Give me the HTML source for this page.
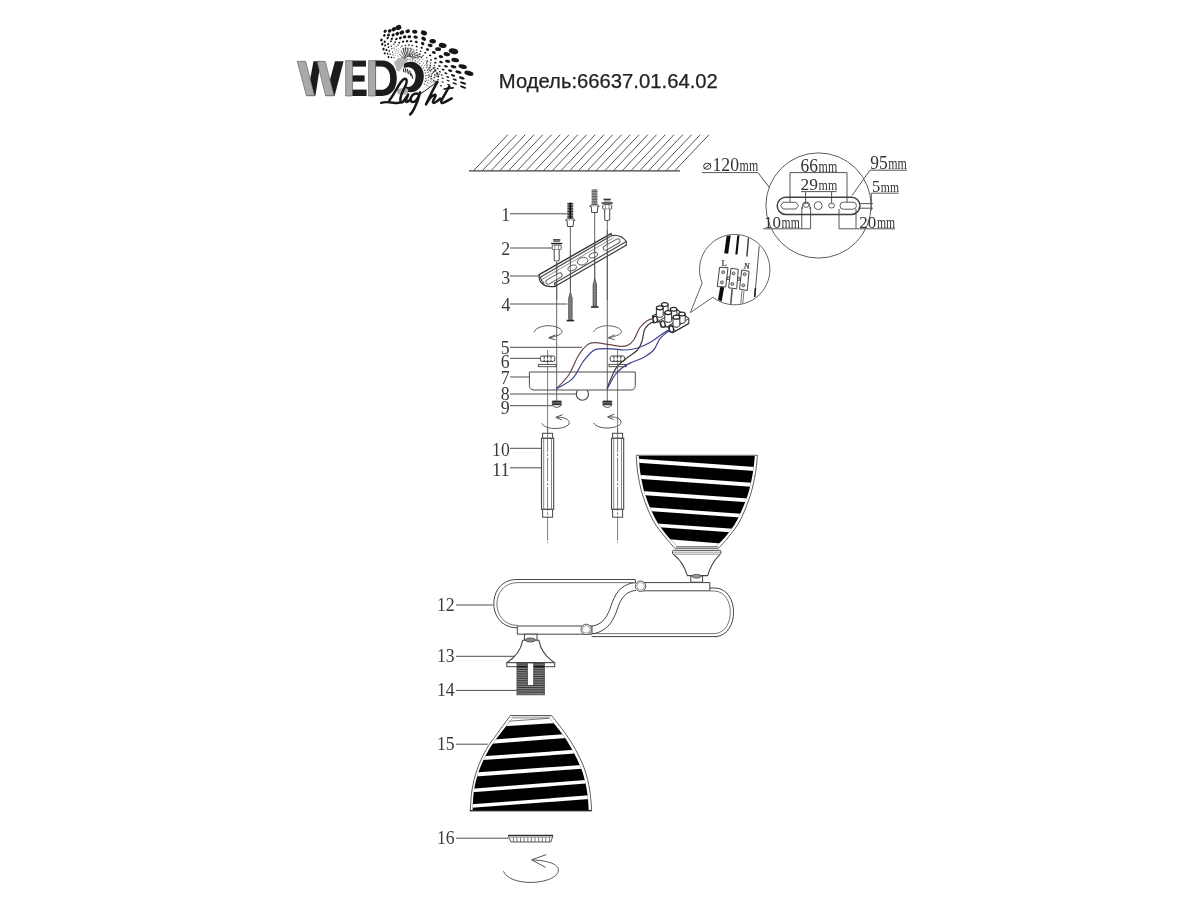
<!DOCTYPE html>
<html><head><meta charset="utf-8"><title>Diagram</title>
<style>
html,body{margin:0;padding:0;background:#fff;}
body{width:1200px;height:900px;overflow:hidden;font-family:"Liberation Sans",sans-serif;}
svg{display:block;}
</style></head><body>
<svg width="1200" height="900" viewBox="0 0 1200 900">
<defs><filter id="soft" x="0" y="0" width="1200" height="900" filterUnits="userSpaceOnUse"><feGaussianBlur stdDeviation="0.45"/></filter></defs>
<rect width="1200" height="900" fill="#fff"/>
<g filter="url(#soft)">
<!-- p01_head.py -->
<text x="498.8" y="87.8" font-family="Liberation Sans, sans-serif" font-size="19.3" fill="#222" stroke="#222" stroke-width="0.25" textLength="219" lengthAdjust="spacingAndGlyphs">Модель:66637.01.64.02</text>
<g stroke="#555" stroke-width="1" fill="none">
<line x1="473.70" y1="170.5" x2="507.80" y2="134.7"/>
<line x1="482.45" y1="170.5" x2="516.55" y2="134.7"/>
<line x1="491.20" y1="170.5" x2="525.30" y2="134.7"/>
<line x1="499.95" y1="170.5" x2="534.05" y2="134.7"/>
<line x1="508.70" y1="170.5" x2="542.80" y2="134.7"/>
<line x1="517.45" y1="170.5" x2="551.55" y2="134.7"/>
<line x1="526.20" y1="170.5" x2="560.30" y2="134.7"/>
<line x1="534.95" y1="170.5" x2="569.05" y2="134.7"/>
<line x1="543.70" y1="170.5" x2="577.80" y2="134.7"/>
<line x1="552.45" y1="170.5" x2="586.55" y2="134.7"/>
<line x1="561.20" y1="170.5" x2="595.30" y2="134.7"/>
<line x1="569.95" y1="170.5" x2="604.05" y2="134.7"/>
<line x1="578.70" y1="170.5" x2="612.80" y2="134.7"/>
<line x1="587.45" y1="170.5" x2="621.55" y2="134.7"/>
<line x1="596.20" y1="170.5" x2="630.30" y2="134.7"/>
<line x1="604.95" y1="170.5" x2="639.05" y2="134.7"/>
<line x1="613.70" y1="170.5" x2="647.80" y2="134.7"/>
<line x1="622.45" y1="170.5" x2="656.55" y2="134.7"/>
<line x1="631.20" y1="170.5" x2="665.30" y2="134.7"/>
<line x1="639.95" y1="170.5" x2="674.05" y2="134.7"/>
<line x1="648.70" y1="170.5" x2="682.80" y2="134.7"/>
<line x1="657.45" y1="170.5" x2="691.55" y2="134.7"/>
<line x1="666.20" y1="170.5" x2="700.30" y2="134.7"/>
<line x1="674.95" y1="170.5" x2="709.05" y2="134.7"/>
</g>
<line x1="469" y1="170.8" x2="680" y2="170.8" stroke="#3c3c3c" stroke-width="1.25"/>
<g font-family="Liberation Serif, serif" font-size="19" fill="#3a3a3a" text-anchor="end">
<text x="510.2" y="221.1" textLength="8.9" lengthAdjust="spacingAndGlyphs">1</text>
<text x="510.2" y="254.9" textLength="8.9" lengthAdjust="spacingAndGlyphs">2</text>
<text x="510.2" y="284.3" textLength="8.9" lengthAdjust="spacingAndGlyphs">3</text>
<text x="510.4" y="310.9" textLength="8.9" lengthAdjust="spacingAndGlyphs">4</text>
<text x="509.6" y="354.4" textLength="8.9" lengthAdjust="spacingAndGlyphs">5</text>
<text x="509.6" y="368.1" textLength="8.9" lengthAdjust="spacingAndGlyphs">6</text>
<text x="509.6" y="384.1" textLength="8.9" lengthAdjust="spacingAndGlyphs">7</text>
<text x="509.6" y="400.2" textLength="8.9" lengthAdjust="spacingAndGlyphs">8</text>
<text x="509.6" y="413.9" textLength="8.9" lengthAdjust="spacingAndGlyphs">9</text>
<text x="509.8" y="456.3" textLength="17.7" lengthAdjust="spacingAndGlyphs">10</text>
<text x="509.8" y="475.5" textLength="17.7" lengthAdjust="spacingAndGlyphs">11</text>
<text x="454.6" y="611.3" textLength="17.7" lengthAdjust="spacingAndGlyphs">12</text>
<text x="454.6" y="662" textLength="17.7" lengthAdjust="spacingAndGlyphs">13</text>
<text x="454.6" y="696.3" textLength="17.7" lengthAdjust="spacingAndGlyphs">14</text>
<text x="454.6" y="750.2" textLength="17.7" lengthAdjust="spacingAndGlyphs">15</text>
<text x="454.6" y="844.2" textLength="17.7" lengthAdjust="spacingAndGlyphs">16</text>
</g>
<g stroke="#4e4e4e" stroke-width="1" fill="none">
<line x1="510" y1="213.8" x2="567.5" y2="213.8"/>
<line x1="510" y1="248" x2="552.5" y2="248"/>
<line x1="510" y1="276" x2="539.5" y2="276"/>
<line x1="510" y1="304" x2="567.5" y2="304"/>
<line x1="510" y1="347.3" x2="582" y2="347.3"/>
<line x1="510" y1="358.3" x2="540" y2="358.3"/>
<line x1="510" y1="377" x2="529.7" y2="377"/>
<line x1="510" y1="394" x2="576" y2="394"/>
<line x1="510" y1="405.7" x2="552.7" y2="405.7"/>
<line x1="510" y1="448.3" x2="541.7" y2="448.3"/>
<line x1="510" y1="467.8" x2="541.7" y2="467.8"/>
<line x1="456" y1="605" x2="493" y2="605"/>
<line x1="456" y1="656.3" x2="514.7" y2="656.3"/>
<line x1="456" y1="690.4" x2="517.3" y2="690.4"/>
<line x1="456" y1="744.2" x2="487.7" y2="744.2"/>
<line x1="456" y1="838.2" x2="508.7" y2="838.2"/>
</g>
<!-- p02_fasteners.py -->
<g stroke="#555" stroke-width="0.9" fill="none">
<line x1="556.7" y1="262" x2="556.7" y2="401"/>
<line x1="570.4" y1="227" x2="570.4" y2="291"/>
<line x1="594.7" y1="213" x2="594.7" y2="278"/>
<line x1="607.3" y1="221" x2="607.3" y2="401"/>
</g>
<g fill="none" stroke="#444" stroke-width="1.1" stroke-linejoin="round" stroke-linecap="round">
<path d="M539.2 274.6 L611 233.6" stroke="#333" stroke-width="1.3"/>
<path d="M540.3 277.2 L611.8 235.6"/>
<path d="M611 233.6 L611.8 235.6 Q621 234.2 626.4 241.6 L626.2 245.2"/>
<path d="M626.4 241.6 L554.6 283.2" />
<path d="M626.2 245.2 L555.2 286.3" stroke="#333" stroke-width="1.2"/>
<path d="M541.5 279.6 L613.5 237.8" stroke="#777" stroke-width="0.8"/>
<path d="M539.2 274.6 Q538.6 280.5 541.5 283 Q546 287.3 553.4 286.6 L555.2 286.3 L554.6 283.2" stroke="#333" stroke-width="1.2"/>
<path d="M540.3 277.2 Q541 281 544 283.2"/>
</g>
<rect x="545.0" y="276.3" width="18.0" height="4.4" rx="2.2" fill="#fff" stroke="#555" stroke-width="0.9" transform="rotate(-29.7 554.0 278.5)"/>
<ellipse cx="572.2" cy="268.0" rx="4.6" ry="2.6" fill="#fff" stroke="#555" stroke-width="0.9" transform="rotate(-20.0 572.2 268.0)"/>
<ellipse cx="582.6" cy="261.2" rx="5.4" ry="3.6" fill="#fff" stroke="#555" stroke-width="0.9" transform="rotate(-20.0 582.6 261.2)"/>
<ellipse cx="593.4" cy="255.2" rx="4.6" ry="2.4" fill="#fff" stroke="#555" stroke-width="0.9" transform="rotate(-20.0 593.4 255.2)"/>
<rect x="602.4" y="242.4" width="18.5" height="4.4" rx="2.2" fill="#fff" stroke="#555" stroke-width="0.9" transform="rotate(-29.7 611.6 244.6)"/>
<g stroke="#555" stroke-width="0.8" fill="none">
<line x1="556.7" y1="262" x2="556.7" y2="300"/>
<line x1="570.4" y1="250" x2="570.4" y2="291"/>
<line x1="594.7" y1="240" x2="594.7" y2="278"/>
<line x1="607.3" y1="230" x2="607.3" y2="300"/>
</g>
<path d="M567.7 204.5 Q570.3 200.5 572.9 204.5 L572.9 218.0 L567.7 218.0 Z" fill="#777" stroke="none" opacity="0.55"/>
<line x1="567.3" y1="203.5" x2="573.3" y2="203.5" stroke="#222" stroke-width="0.9"/>
<line x1="567.3" y1="205.1" x2="573.3" y2="205.1" stroke="#222" stroke-width="0.9"/>
<line x1="567.3" y1="206.7" x2="573.3" y2="206.7" stroke="#222" stroke-width="0.9"/>
<line x1="567.3" y1="208.3" x2="573.3" y2="208.3" stroke="#222" stroke-width="0.9"/>
<line x1="567.3" y1="209.9" x2="573.3" y2="209.9" stroke="#222" stroke-width="0.9"/>
<line x1="567.3" y1="211.5" x2="573.3" y2="211.5" stroke="#222" stroke-width="0.9"/>
<line x1="567.3" y1="213.1" x2="573.3" y2="213.1" stroke="#222" stroke-width="0.9"/>
<line x1="567.3" y1="214.7" x2="573.3" y2="214.7" stroke="#222" stroke-width="0.9"/>
<line x1="567.3" y1="216.3" x2="573.3" y2="216.3" stroke="#222" stroke-width="0.9"/>
<line x1="567.3" y1="217.9" x2="573.3" y2="217.9" stroke="#222" stroke-width="0.9"/>
<line x1="570.3" y1="202.5" x2="570.3" y2="219.0" stroke="#111" stroke-width="1.6"/>
<path d="M565.5 220.3 L567.1 218.7 L573.5 218.7 L575.1 220.3 Z" fill="#fff" stroke="#444" stroke-width="0.9"/>
<path d="M567.0 220.3 L567.5 226.5 L573.1 226.5 L573.6 220.3" fill="#fff" stroke="#444" stroke-width="1"/>
<path d="M591.9 191.0 Q594.5 187.0 597.1 191.0 L597.1 204.0 L591.9 204.0 Z" fill="#777" stroke="none" opacity="0.55"/>
<line x1="591.5" y1="190.0" x2="597.5" y2="190.0" stroke="#555" stroke-width="0.9"/>
<line x1="591.5" y1="191.6" x2="597.5" y2="191.6" stroke="#555" stroke-width="0.9"/>
<line x1="591.5" y1="193.2" x2="597.5" y2="193.2" stroke="#555" stroke-width="0.9"/>
<line x1="591.5" y1="194.8" x2="597.5" y2="194.8" stroke="#555" stroke-width="0.9"/>
<line x1="591.5" y1="196.4" x2="597.5" y2="196.4" stroke="#555" stroke-width="0.9"/>
<line x1="591.5" y1="198.0" x2="597.5" y2="198.0" stroke="#555" stroke-width="0.9"/>
<line x1="591.5" y1="199.6" x2="597.5" y2="199.6" stroke="#555" stroke-width="0.9"/>
<line x1="591.5" y1="201.2" x2="597.5" y2="201.2" stroke="#555" stroke-width="0.9"/>
<line x1="591.5" y1="202.8" x2="597.5" y2="202.8" stroke="#555" stroke-width="0.9"/>
<line x1="591.5" y1="204.4" x2="597.5" y2="204.4" stroke="#555" stroke-width="0.9"/>
<path d="M589.7 206.3 L591.3 204.7 L597.7 204.7 L599.3 206.3 Z" fill="#fff" stroke="#444" stroke-width="0.9"/>
<path d="M591.2 206.3 L591.7 212.5 L597.3 212.5 L597.8 206.3" fill="#fff" stroke="#444" stroke-width="1"/>
<line x1="603.6" y1="199.4" x2="610.8" y2="199.4" stroke="#333" stroke-width="1.5"/>
<line x1="604.0" y1="201.0" x2="610.4" y2="201.0" stroke="#777" stroke-width="1"/>
<line x1="601.6" y1="203.0" x2="612.8" y2="203.0" stroke="#222" stroke-width="1.4"/>
<rect x="602.7" y="204.6" width="9" height="4.6" rx="1" fill="#fff" stroke="#444" stroke-width="0.9"/>
<line x1="605.4" y1="204.6" x2="605.4" y2="209.2" stroke="#666" stroke-width="0.7"/>
<line x1="609.0" y1="204.6" x2="609.0" y2="209.2" stroke="#666" stroke-width="0.7"/>
<path d="M604.7 209.2 L604.7 220.0 Q607.2 221.3 609.7 220.0 L609.7 209.2" fill="#fff" stroke="#444" stroke-width="1"/>
<line x1="553.1" y1="239.9" x2="560.3" y2="239.9" stroke="#333" stroke-width="1.5"/>
<line x1="553.5" y1="241.5" x2="559.9" y2="241.5" stroke="#777" stroke-width="1"/>
<line x1="551.1" y1="243.5" x2="562.3" y2="243.5" stroke="#222" stroke-width="1.4"/>
<rect x="552.2" y="245.1" width="9" height="4.6" rx="1" fill="#fff" stroke="#444" stroke-width="0.9"/>
<line x1="554.9" y1="245.1" x2="554.9" y2="249.7" stroke="#666" stroke-width="0.7"/>
<line x1="558.5" y1="245.1" x2="558.5" y2="249.7" stroke="#666" stroke-width="0.7"/>
<path d="M554.2 249.7 L554.2 260.5 Q556.7 261.8 559.2 260.5 L559.2 249.7" fill="#fff" stroke="#444" stroke-width="1"/>
<path d="M570.4 291.5 L568.7 298.5 L568.7 319.6 L572.1 319.6 L572.1 298.5 Z" fill="#999" stroke="#444" stroke-width="0.8"/>
<line x1="568.7" y1="297.1" x2="572.1" y2="296.5" stroke="#555" stroke-width="0.6"/>
<line x1="568.7" y1="298.6" x2="572.1" y2="298.0" stroke="#555" stroke-width="0.6"/>
<line x1="568.7" y1="300.1" x2="572.1" y2="299.5" stroke="#555" stroke-width="0.6"/>
<line x1="568.7" y1="301.6" x2="572.1" y2="301.0" stroke="#555" stroke-width="0.6"/>
<line x1="568.7" y1="303.1" x2="572.1" y2="302.5" stroke="#555" stroke-width="0.6"/>
<line x1="568.7" y1="304.6" x2="572.1" y2="304.0" stroke="#555" stroke-width="0.6"/>
<line x1="568.7" y1="306.1" x2="572.1" y2="305.5" stroke="#555" stroke-width="0.6"/>
<line x1="568.7" y1="307.6" x2="572.1" y2="307.0" stroke="#555" stroke-width="0.6"/>
<line x1="568.7" y1="309.1" x2="572.1" y2="308.5" stroke="#555" stroke-width="0.6"/>
<line x1="568.7" y1="310.6" x2="572.1" y2="310.0" stroke="#555" stroke-width="0.6"/>
<line x1="568.7" y1="312.1" x2="572.1" y2="311.5" stroke="#555" stroke-width="0.6"/>
<line x1="568.7" y1="313.6" x2="572.1" y2="313.0" stroke="#555" stroke-width="0.6"/>
<line x1="568.7" y1="315.1" x2="572.1" y2="314.5" stroke="#555" stroke-width="0.6"/>
<line x1="568.7" y1="316.6" x2="572.1" y2="316.0" stroke="#555" stroke-width="0.6"/>
<line x1="568.7" y1="318.1" x2="572.1" y2="317.5" stroke="#555" stroke-width="0.6"/>
<line x1="566.7" y1="320.6" x2="574.1" y2="320.6" stroke="#222" stroke-width="1.6"/>
<path d="M594.8 278.0 L593.1 285.0 L593.1 306.0 L596.5 306.0 L596.5 285.0 Z" fill="#999" stroke="#444" stroke-width="0.8"/>
<line x1="593.1" y1="283.6" x2="596.5" y2="283.0" stroke="#555" stroke-width="0.6"/>
<line x1="593.1" y1="285.1" x2="596.5" y2="284.5" stroke="#555" stroke-width="0.6"/>
<line x1="593.1" y1="286.6" x2="596.5" y2="286.0" stroke="#555" stroke-width="0.6"/>
<line x1="593.1" y1="288.1" x2="596.5" y2="287.5" stroke="#555" stroke-width="0.6"/>
<line x1="593.1" y1="289.6" x2="596.5" y2="289.0" stroke="#555" stroke-width="0.6"/>
<line x1="593.1" y1="291.1" x2="596.5" y2="290.5" stroke="#555" stroke-width="0.6"/>
<line x1="593.1" y1="292.6" x2="596.5" y2="292.0" stroke="#555" stroke-width="0.6"/>
<line x1="593.1" y1="294.1" x2="596.5" y2="293.5" stroke="#555" stroke-width="0.6"/>
<line x1="593.1" y1="295.6" x2="596.5" y2="295.0" stroke="#555" stroke-width="0.6"/>
<line x1="593.1" y1="297.1" x2="596.5" y2="296.5" stroke="#555" stroke-width="0.6"/>
<line x1="593.1" y1="298.6" x2="596.5" y2="298.0" stroke="#555" stroke-width="0.6"/>
<line x1="593.1" y1="300.1" x2="596.5" y2="299.5" stroke="#555" stroke-width="0.6"/>
<line x1="593.1" y1="301.6" x2="596.5" y2="301.0" stroke="#555" stroke-width="0.6"/>
<line x1="593.1" y1="303.1" x2="596.5" y2="302.5" stroke="#555" stroke-width="0.6"/>
<line x1="593.1" y1="304.6" x2="596.5" y2="304.0" stroke="#555" stroke-width="0.6"/>
<line x1="591.1" y1="307.0" x2="598.5" y2="307.0" stroke="#222" stroke-width="1.6"/>
<!-- p03_dimcircle.py -->
<circle cx="818.5" cy="205.5" r="52.6" fill="none" stroke="#5c5c5c" stroke-width="1"/>
<g font-family="Liberation Serif, serif" fill="#333">
<g fill="none" stroke="#333" stroke-width="1"><ellipse cx="707.2" cy="166.3" rx="3.6" ry="3.1"/><line x1="703.6" y1="169.2" x2="710.8" y2="163.4"/></g>
<text x="712.5" y="171.0" font-size="18.5" textLength="26.5" lengthAdjust="spacingAndGlyphs">120</text>
<text x="739.6" y="171.0" font-size="16.7" textLength="18.6" lengthAdjust="spacingAndGlyphs">mm</text>
<text x="800.6" y="171.6" font-size="18.5" textLength="17.4" lengthAdjust="spacingAndGlyphs">66</text>
<text x="818.6" y="171.6" font-size="16.7" textLength="18.6" lengthAdjust="spacingAndGlyphs">mm</text>
<text x="800.6" y="190.4" font-size="17.0" textLength="17.4" lengthAdjust="spacingAndGlyphs">29</text>
<text x="818.6" y="190.4" font-size="15.3" textLength="18.6" lengthAdjust="spacingAndGlyphs">mm</text>
<text x="870.3" y="169.0" font-size="18.5" textLength="17.4" lengthAdjust="spacingAndGlyphs">95</text>
<text x="888.3" y="169.0" font-size="16.7" textLength="18.6" lengthAdjust="spacingAndGlyphs">mm</text>
<text x="872.0" y="192.0" font-size="17.0" textLength="8.2" lengthAdjust="spacingAndGlyphs">5</text>
<text x="880.8" y="192.0" font-size="15.3" textLength="18.2" lengthAdjust="spacingAndGlyphs">mm</text>
<text x="764.0" y="228.0" font-size="17.5" textLength="17.0" lengthAdjust="spacingAndGlyphs">10</text>
<text x="781.6" y="228.0" font-size="15.8" textLength="18.2" lengthAdjust="spacingAndGlyphs">mm</text>
<text x="859.3" y="228.0" font-size="17.5" textLength="17.0" lengthAdjust="spacingAndGlyphs">20</text>
<text x="876.9" y="228.0" font-size="15.8" textLength="18.2" lengthAdjust="spacingAndGlyphs">mm</text>
</g>
<g fill="none" stroke="#555" stroke-width="1">
<path d="M702 172.6 L758 172.6 L769 187.2"/>
<path d="M790 204 L790 172.6 L847 172.6 L847 205"/>
<path d="M805.6 204 L805.6 191.6 M831.6 191.6 L831.6 204 M801 191.6 L836.6 191.6"/>
<path d="M907 170.2 L870 170.2 L852 195.5"/>
<path d="M898.6 193.2 L871.3 193.2 L871.3 210.5"/>
<path d="M860 203.6 L873 203.6 M858 208.2 L873 208.2"/>
<path d="M763 228.8 L810.6 228.8 L810.6 207 M801.8 228.8 L801.8 207"/>
<path d="M895 228.8 L839 228.8 L839 209 M856 228.8 L856 209"/>
</g>
<rect x="777.2" y="197.2" width="82.8" height="17.2" rx="8.6" fill="none" stroke="#404040" stroke-width="1.45"/>
<g fill="#fff" stroke="#555" stroke-width="0.95">
<path d="M783 202.3 L796 202.3 L798.4 205.6 L796 209 L783 209 L780.8 205.6 Z" stroke-linejoin="round"/>
<path d="M802.4 209 L802.4 205.4 Q802.4 202 806 202 Q809.8 202 809.8 205.4 L809.8 209" fill="none"/>
<ellipse cx="806.1" cy="205.2" rx="2.6" ry="2.2"/>
<circle cx="818.2" cy="205.6" r="4"/>
<ellipse cx="831.6" cy="205.6" rx="3" ry="2.4"/>
<rect x="840" y="202.2" width="16.4" height="7" rx="3.4"/>
</g>
<!-- p04_callout.py -->
<defs><clipPath id="cclip"><circle cx="734.7" cy="269.6" r="34.6"/></clipPath></defs>
<path d="M702.17 283.04 A35.2 35.2 0 1 1 712.89 297.23 L690.3 312.7 Z" fill="#fff" stroke="#626262" stroke-width="1" stroke-linejoin="round"/>
<g clip-path="url(#cclip)">
<line x1="729" y1="233" x2="726.2" y2="253.5" stroke="#111" stroke-width="4"/>
<line x1="738.6" y1="233" x2="736.4" y2="254.5" stroke="#111" stroke-width="2.2"/>
<line x1="748.6" y1="236" x2="746.9" y2="256.5" stroke="#444" stroke-width="1.5"/>
<line x1="759.2" y1="246" x2="754.8" y2="297" stroke="#444" stroke-width="0.9"/>
<line x1="755.4" y1="288" x2="754.7" y2="297" stroke="#222" stroke-width="1.6"/>
<line x1="722.2" y1="287" x2="719.4" y2="303" stroke="#111" stroke-width="4"/>
<line x1="732.2" y1="289" x2="730.6" y2="305" stroke="#555" stroke-width="1.6"/>
<line x1="742" y1="290.5" x2="740.6" y2="305" stroke="#555" stroke-width="0.8"/>
<line x1="744" y1="290.8" x2="742.6" y2="305" stroke="#555" stroke-width="0.8"/>
</g>
<path d="M719.6 267.3 L728.0 267.6 L725.8 286.9 L717.3 286.6 Z" fill="#fff" stroke="#444" stroke-width="1"/><circle cx="723.2" cy="272.2" r="1.5" fill="#bbb" stroke="#444" stroke-width="0.8"/><circle cx="721.9" cy="282.4" r="1.5" fill="#bbb" stroke="#444" stroke-width="0.8"/>
<path d="M731.0 268.2 L738.3 269.4 L736.7 288.8 L728.6 287.8 Z" fill="#fff" stroke="#444" stroke-width="1"/><circle cx="733.5" cy="273.4" r="1.5" fill="#bbb" stroke="#444" stroke-width="0.8"/><circle cx="732.3" cy="284.0" r="1.5" fill="#bbb" stroke="#444" stroke-width="0.8"/>
<path d="M741.7 270.0 L749.0 271.3 L747.3 290.5 L739.5 289.2 Z" fill="#fff" stroke="#444" stroke-width="1"/><circle cx="744.6" cy="274.2" r="1.5" fill="#bbb" stroke="#444" stroke-width="0.8"/><circle cx="743.3" cy="285.4" r="1.5" fill="#bbb" stroke="#444" stroke-width="0.8"/>
<rect x="727.2" y="277" width="2.2" height="2.4" fill="#fff" stroke="#333" stroke-width="0.8"/>
<rect x="737.8" y="277.8" width="2.2" height="2.4" fill="#fff" stroke="#333" stroke-width="0.8"/>
<text x="721.6" y="266.2" font-family="Liberation Serif, serif" font-size="8.8" fill="#333" stroke="#333" stroke-width="0.2">L</text>
<text x="743.8" y="268.8" font-family="Liberation Serif, serif" font-size="8.8" font-style="italic" fill="#333" stroke="#333" stroke-width="0.2">N</text>
<g stroke-linejoin="round">
<path d="M652.4 316 L659 312.5 L664 309 L672 312.5 L677 309.5 L688.8 318.4 L688.8 323.6 L673.2 332.6 L669.4 331.8 L668.8 326.8 L661.2 327.2 L659.6 321.4 L653.4 323 Z" fill="#fff" stroke="#333" stroke-width="1.1"/>
<path d="M652.8 316.2 L659.4 320.6 L667 316.2" fill="none" stroke="#333" stroke-width="1"/>
<path d="M660 322.4 L667.2 326.8 L675 322" fill="none" stroke="#333" stroke-width="1"/>
<path d="M668.6 326.4 L676 330.8 L688.8 323.4" fill="none" stroke="#333" stroke-width="1"/>
<path d="M669.6 324.6 L676.4 327.2 L688.6 318.6" fill="none" stroke="#333" stroke-width="1"/>
<path d="M661.45 304.60 L661.45 311.60 A3.30 1.90 0 0 0 668.05 311.60 L668.05 304.60 Z" fill="#fff" stroke="#333" stroke-width="1"/>
<ellipse cx="664.75" cy="304.60" rx="3.30" ry="1.90" fill="#fff" stroke="#222" stroke-width="1.2"/>
<path d="M670.30 309.30 L670.30 316.30 A3.30 1.90 0 0 0 676.90 316.30 L676.90 309.30 Z" fill="#fff" stroke="#333" stroke-width="1"/>
<ellipse cx="673.60" cy="309.30" rx="3.30" ry="1.90" fill="#fff" stroke="#222" stroke-width="1.2"/>
<path d="M678.80 314.00 L678.80 321.50 A3.20 1.90 0 0 0 685.20 321.50 L685.20 314.00 Z" fill="#fff" stroke="#333" stroke-width="1"/>
<ellipse cx="682.00" cy="314.00" rx="3.20" ry="1.90" fill="#fff" stroke="#222" stroke-width="1.2"/>
<path d="M656.40 307.80 L656.40 315.40 A3.40 2.00 0 0 0 663.20 315.40 L663.20 307.80 Z" fill="#fff" stroke="#333" stroke-width="1"/>
<ellipse cx="659.80" cy="307.80" rx="3.40" ry="2.00" fill="#fff" stroke="#222" stroke-width="1.2"/>
<path d="M664.80 312.60 L664.80 320.40 A3.40 2.00 0 0 0 671.60 320.40 L671.60 312.60 Z" fill="#fff" stroke="#333" stroke-width="1"/>
<ellipse cx="668.20" cy="312.60" rx="3.40" ry="2.00" fill="#fff" stroke="#222" stroke-width="1.2"/>
<path d="M673.00 317.20 L673.00 325.20 A3.40 2.00 0 0 0 679.80 325.20 L679.80 317.20 Z" fill="#fff" stroke="#333" stroke-width="1"/>
<ellipse cx="676.40" cy="317.20" rx="3.40" ry="2.00" fill="#fff" stroke="#222" stroke-width="1.2"/>
<ellipse cx="655.2" cy="319.4" rx="2.1" ry="3.2" fill="#fff" stroke="#222" stroke-width="1.2" transform="rotate(-14 655.2 319.4)"/>
<ellipse cx="662.9" cy="324.0" rx="2.1" ry="3.2" fill="#fff" stroke="#222" stroke-width="1.2" transform="rotate(-14 662.9 324.0)"/>
<ellipse cx="671.4" cy="329.0" rx="2.1" ry="3.2" fill="#fff" stroke="#222" stroke-width="1.2" transform="rotate(-14 671.4 329.0)"/>
</g>
<!-- p05_plate.py -->
<g stroke="#5a5a5a" stroke-width="0.8" fill="none">
<line x1="547.6" y1="350" x2="547.6" y2="433"/>
<line x1="617.6" y1="350" x2="617.6" y2="433"/>
</g>
<path d="M534.0 332.2 C536.0 327.2 544.0 325.7 548.0 325.7 C554.0 325.7 561.0 327.7 562.0 331.2 C562.5 334.2 557.0 336.2 549.0 337.8" fill="none" stroke="#555" stroke-width="1"/>
<path d="M555.5 334.8 L548.6 337.8 L555.5 339.8" fill="none" stroke="#555" stroke-width="1"/>
<path d="M593.4 332.2 C595.4 327.2 603.4 325.7 607.4 325.7 C613.4 325.7 620.4 327.7 621.4 331.2 C621.9 334.2 616.4 336.2 608.4 337.8" fill="none" stroke="#5a6a60" stroke-width="1"/>
<path d="M614.9 334.8 L608.0 337.8 L614.9 339.8" fill="none" stroke="#5a6a60" stroke-width="1"/>
<rect x="540.4" y="356" width="14.4" height="5.4" rx="1.6" fill="#fff" stroke="#444" stroke-width="1"/><path d="M544.2 356 v5.4 M547.6 356 v5.4 M551.0 356 v5.4" stroke="#333" stroke-width="1" stroke-dasharray="2.6 1"/>
<rect x="610.2" y="356" width="14.4" height="5.4" rx="1.6" fill="#fff" stroke="#444" stroke-width="1"/><path d="M614.0 356 v5.4 M617.4 356 v5.4 M620.8 356 v5.4" stroke="#333" stroke-width="1" stroke-dasharray="2.6 1"/>
<rect x="538.3" y="364.4" width="17.8" height="2.3" fill="#fff" stroke="#444" stroke-width="0.9"/>
<rect x="609" y="364.4" width="17.2" height="2.3" fill="#fff" stroke="#444" stroke-width="0.9"/>
<path d="M529.4 372 L635.3 372 L635.3 385.5 Q635.3 390 630.8 390 L534 390 Q529.4 390 529.4 385.5 Z" fill="none" stroke="#4c4c4c" stroke-width="1"/>
<path d="M577.6 390.4 A6.1 6.1 0 1 0 587.2 390.4" fill="none" stroke="#444" stroke-width="1.1"/>
<path d="M552.4 401 L561.2 401 L561.2 405.4 Q556.8 409.4 552.4 405.4 Z" fill="#fff" stroke="#444" stroke-width="0.9"/>
<rect x="552.6" y="401" width="8.4" height="4.2" fill="#222"/>
<path d="M552.6 402.4 h8.4 M552.6 403.8 h8.4" stroke="#aaa" stroke-width="0.5"/>
<path d="M602.9 401 L611.7 401 L611.7 405.4 Q607.3 409.4 602.9 405.4 Z" fill="#fff" stroke="#444" stroke-width="0.9"/>
<rect x="603.1" y="401" width="8.4" height="4.2" fill="#222"/>
<path d="M603.1 402.4 h8.4 M603.1 403.8 h8.4" stroke="#aaa" stroke-width="0.5"/>
<path d="M556.5 388.6 C558.5 386.3 565.0 380.6 568.7 375.0 C572.4 369.4 575.6 360.1 578.7 355.0 C581.8 349.9 584.8 346.7 587.5 344.6 C590.2 342.5 591.7 342.6 595.0 342.6 C598.3 342.6 603.3 343.8 607.5 344.4 C611.7 345.0 616.7 346.1 620.0 346.3 C623.3 346.5 625.2 346.4 627.5 345.4 C629.8 344.3 631.6 343.0 633.7 340.0 C635.8 337.0 637.7 330.7 640.0 327.5 C642.3 324.3 645.3 322.1 647.5 320.6 C649.7 319.1 652.1 318.9 653.0 318.6" fill="none" stroke="#6a4646" stroke-width="1.2" stroke-linecap="round"/>
<path d="M556.5 388.8 C559.2 387.1 568.2 383.1 572.5 378.7 C576.8 374.3 579.2 367.1 582.5 362.5 C585.8 357.9 589.6 353.5 592.5 351.2 C595.4 348.9 596.7 349.2 600.0 348.8 C603.3 348.4 608.3 348.6 612.5 348.8 C616.7 349.0 620.8 350.1 625.0 350.0 C629.2 349.9 633.3 349.2 637.5 348.0 C641.7 346.8 645.8 344.9 650.0 342.5 C654.2 340.1 659.3 335.9 662.5 333.7 C665.7 331.5 668.2 330.1 669.4 329.4" fill="none" stroke="#404092" stroke-width="1.2" stroke-linecap="round"/>
<path d="M607.4 387.6 C608.2 385.5 610.8 378.6 612.5 375.0 C614.2 371.4 615.0 369.1 617.5 366.2 C620.0 363.3 624.2 360.2 627.5 357.5 C630.8 354.8 635.1 352.7 637.5 350.0 C639.9 347.3 640.9 344.5 642.0 341.2 C643.1 337.9 643.3 332.8 644.4 330.0 C645.5 327.2 647.2 325.8 648.7 324.4 C650.2 323.0 652.9 322.1 653.7 321.6" fill="none" stroke="#443a3a" stroke-width="1.2" stroke-linecap="round"/>
<path d="M607.4 388.4 C608.7 386.2 612.5 378.5 615.0 375.0 C617.5 371.5 619.8 369.6 622.5 367.5 C625.2 365.4 627.7 364.2 631.2 362.5 C634.7 360.8 640.0 359.6 643.7 357.5 C647.5 355.4 651.0 353.1 653.7 350.0 C656.4 346.9 657.5 341.9 660.0 338.7 C662.5 335.5 667.2 332.3 668.7 331.0" fill="none" stroke="#404092" stroke-width="1.2" stroke-linecap="round"/>
<!-- p06_rods.py -->
<path d="M541.6 423.3 C544.2 427.3 550.2 428.5 555.2 428.5 C562.2 428.5 569.2 426.3 569.2 422.7 C569.2 419.3 564.2 416.9 556.2 417.3" fill="none" stroke="#555" stroke-width="1"/>
<path d="M562.6 414.7 L555.8 417.3 L561.8 420.1" fill="none" stroke="#555" stroke-width="1"/>
<path d="M593.4 422.8 C596.0 426.8 602.0 428.0 607.0 428.0 C614.0 428.0 621.0 425.8 621.0 422.2 C621.0 418.8 616.0 416.4 608.0 416.8" fill="none" stroke="#555" stroke-width="1"/>
<path d="M614.4 414.2 L607.6 416.8 L613.6 419.6" fill="none" stroke="#555" stroke-width="1"/>
<rect x="542.6" y="433.3" width="10" height="5" fill="#fff" stroke="#444" stroke-width="1"/>
<rect x="542.6" y="509.2" width="10" height="8" fill="#fff" stroke="#444" stroke-width="1"/>
<rect x="541.5" y="438.3" width="12.2" height="70.9" fill="#fff" stroke="#444" stroke-width="1.1"/>
<path d="M543.7 438.3 V509.2 M551.5 438.3 V509.2" stroke="#777" stroke-width="0.9" fill="none"/>
<line x1="547.6" y1="428" x2="547.6" y2="543" stroke="#5a5a5a" stroke-width="0.8" stroke-dasharray="24 1.5 2.5 1.5"/>
<rect x="612.6" y="433.3" width="10" height="5" fill="#fff" stroke="#444" stroke-width="1"/>
<rect x="612.6" y="509.2" width="10" height="8" fill="#fff" stroke="#444" stroke-width="1"/>
<rect x="611.5" y="438.3" width="12.2" height="70.9" fill="#fff" stroke="#444" stroke-width="1.1"/>
<path d="M613.7 438.3 V509.2 M621.5 438.3 V509.2" stroke="#777" stroke-width="0.9" fill="none"/>
<line x1="617.6" y1="428" x2="617.6" y2="543" stroke="#5a5a5a" stroke-width="0.8" stroke-dasharray="24 1.5 2.5 1.5"/>
<!-- p07_uppershade.py -->
<defs><clipPath id="usclip"><path d="M638.8 456.1 C639.1 459.0 639.3 466.8 640.4 473.3 C641.5 479.8 642.6 487.2 645.2 495.0 C647.8 502.8 652.2 513.0 656.0 520.0 C659.8 527.0 664.4 532.3 668.0 536.7 C671.6 541.1 675.9 544.6 677.5 546.2 L716.0 546.2 C717.6 544.6 722.0 541.1 725.5 536.7 C729.0 532.3 733.5 527.0 737.2 520.0 C740.9 513.0 745.2 502.8 747.8 495.0 C750.4 487.2 751.6 479.8 752.8 473.3 C754.0 466.8 754.5 459.0 754.9 456.1 Z"/></clipPath></defs>
<path d="M636.2 455.3 C636.5 458.3 636.7 466.7 637.8 473.3 C638.9 479.9 640.1 487.2 642.6 495.0 C645.1 502.8 649.1 513.0 652.8 520.0 C656.5 527.0 661.1 532.0 664.8 536.7 C668.5 541.4 673.3 546.4 675.0 548.3 L718.5 548.3 C720.2 546.4 725.1 541.4 728.7 536.7 C732.4 532.0 736.8 527.0 740.4 520.0 C744.0 513.0 747.9 502.8 750.4 495.0 C752.9 487.2 754.2 479.9 755.4 473.3 C756.6 466.7 757.1 458.3 757.5 455.3 Z" fill="#fff" stroke="none"/>
<g clip-path="url(#usclip)">
<rect x="630" y="450" width="135" height="100" fill="#050505"/>
<path d="M636.0 458.6 L760.0 467.3 L760.0 471.3 L636.0 462.6 Z" fill="#fff"/>
<path d="M636.0 474.7 L760.0 483.4 L760.0 487.4 L636.0 478.7 Z" fill="#fff"/>
<path d="M636.0 490.6 L760.0 499.3 L760.0 503.2 L636.0 494.5 Z" fill="#fff"/>
<path d="M636.0 506.4 L760.0 515.1 L760.0 518.9 L636.0 510.2 Z" fill="#fff"/>
<path d="M636.0 522.0 L760.0 530.7 L760.0 534.4 L636.0 525.7 Z" fill="#fff"/>
<path d="M660 538.6 L730 544.2 L730 552 L660 552 Z" fill="#fff"/>
</g>
<path d="M636.2 455.3 C636.5 458.3 636.7 466.7 637.8 473.3 C638.9 479.9 640.1 487.2 642.6 495.0 C645.1 502.8 649.1 513.0 652.8 520.0 C656.5 527.0 661.1 532.0 664.8 536.7 C668.5 541.4 673.3 546.4 675.0 548.3 L718.5 548.3 C720.2 546.4 725.1 541.4 728.7 536.7 C732.4 532.0 736.8 527.0 740.4 520.0 C744.0 513.0 747.9 502.8 750.4 495.0 C752.9 487.2 754.2 479.9 755.4 473.3 C756.6 466.7 757.1 458.3 757.5 455.3 Z" fill="none" stroke="#5a5a5a" stroke-width="1"/>
<line x1="676" y1="546.8" x2="718" y2="546.8" stroke="#555" stroke-width="0.9"/>
<rect x="672.5" y="550.3" width="48.3" height="4" rx="1" fill="#fff" stroke="#444" stroke-width="1"/>
<line x1="673" y1="552.2" x2="720.4" y2="552.2" stroke="#777" stroke-width="0.7"/>
<path d="M673.6 554.6 C681 560 684.5 566 687.4 575.6 L707.6 575.6 C710.5 566 714 560 719.8 554.6" fill="#fff" stroke="#444" stroke-width="1.1"/>
<rect x="690.8" y="576" width="11.8" height="6.2" fill="#fff" stroke="#444" stroke-width="1"/>
<ellipse cx="696.6" cy="576.2" rx="4.4" ry="1.9" fill="#9a9a9a" stroke="#444" stroke-width="0.8"/>
<!-- p08_body.py -->
<g fill="none" stroke="#444" stroke-width="1" stroke-linejoin="round">
<path d="M635.2 579.5 L517 579.5 C486 579.5 486 627.8 517.3 627.8" />
<path d="M633 582.6 L517.6 582.6 C490 582.6 490 625.4 517.6 625.4" stroke="#666" stroke-width="0.9"/>
<path d="M709.8 588 L716 588 C739.4 590 739.4 634.5 716 636.6 L591.6 636.6" />
<path d="M709.8 591 L715 591 C735.4 592.6 735.4 632 715 633.6 L592.4 633.6" stroke="#666" stroke-width="0.9"/>
<rect x="641" y="582.6" width="68.8" height="8.2" fill="#fff"/>
<rect x="517.3" y="626" width="74.7" height="8.2" fill="#fff"/>
<path d="M636 582.6 C624 583.4 617 590 612.4 602 C609 612 606 621 597 624.8 C595 625.6 593.6 626 592 626"/>
<path d="M636 590.4 C628 591 622.4 596 619 604.3 C616 613 613 623 605 628.6 C601 631.6 597 633.4 592 633.7"/>
<path d="M635.2 579.5 L635.6 582.6"/>
</g>
<circle cx="640.6" cy="586.2" r="5.2" fill="#fff" stroke="#555" stroke-width="1"/>
<circle cx="640.6" cy="586.2" r="3.8" fill="none" stroke="#888" stroke-width="0.7"/>
<circle cx="586.2" cy="629.4" r="5.2" fill="#fff" stroke="#555" stroke-width="1"/>
<circle cx="586.2" cy="629.4" r="3.8" fill="none" stroke="#888" stroke-width="0.7"/>
<!-- p09_socket.py -->
<rect x="524.4" y="634.2" width="12.6" height="6" fill="#fff" stroke="#444" stroke-width="1"/>
<path d="M522.8 640.2 C521 650 516 657 506.8 662.7 L554.7 662.7 C545.5 657 540.6 650 538.8 640.2 Z" fill="#fff" stroke="#444" stroke-width="1.1" stroke-linejoin="round"/>
<ellipse cx="530.4" cy="640" rx="5" ry="2" fill="#8a8a8a" stroke="#444" stroke-width="0.8"/>
<rect x="506.8" y="662.7" width="47.9" height="4" fill="#fff" stroke="#444" stroke-width="1"/>
<rect x="517" y="663" width="27.3" height="31.8" fill="#9a9a9a" stroke="#333" stroke-width="0.8"/>
<line x1="517.4" y1="664.2" x2="544" y2="663.9" stroke="#2e2e2e" stroke-width="0.95"/>
<line x1="517.4" y1="666.0" x2="544" y2="665.7" stroke="#2e2e2e" stroke-width="0.95"/>
<line x1="517.4" y1="667.8" x2="544" y2="667.5" stroke="#2e2e2e" stroke-width="0.95"/>
<line x1="517.4" y1="669.6" x2="544" y2="669.3" stroke="#2e2e2e" stroke-width="0.95"/>
<line x1="517.4" y1="671.4" x2="544" y2="671.1" stroke="#2e2e2e" stroke-width="0.95"/>
<line x1="517.4" y1="673.2" x2="544" y2="672.9" stroke="#2e2e2e" stroke-width="0.95"/>
<line x1="517.4" y1="675.0" x2="544" y2="674.7" stroke="#2e2e2e" stroke-width="0.95"/>
<line x1="517.4" y1="676.8" x2="544" y2="676.5" stroke="#2e2e2e" stroke-width="0.95"/>
<line x1="517.4" y1="678.6" x2="544" y2="678.3" stroke="#2e2e2e" stroke-width="0.95"/>
<line x1="517.4" y1="680.4" x2="544" y2="680.1" stroke="#2e2e2e" stroke-width="0.95"/>
<line x1="517.4" y1="682.2" x2="544" y2="681.9" stroke="#2e2e2e" stroke-width="0.95"/>
<line x1="517.4" y1="684.0" x2="544" y2="683.7" stroke="#2e2e2e" stroke-width="0.95"/>
<line x1="517.4" y1="685.8" x2="544" y2="685.5" stroke="#2e2e2e" stroke-width="0.95"/>
<line x1="517.4" y1="687.6" x2="544" y2="687.3" stroke="#2e2e2e" stroke-width="0.95"/>
<line x1="517.4" y1="689.4" x2="544" y2="689.1" stroke="#2e2e2e" stroke-width="0.95"/>
<line x1="517.4" y1="691.2" x2="544" y2="690.9" stroke="#2e2e2e" stroke-width="0.95"/>
<line x1="517.4" y1="693.0" x2="544" y2="692.7" stroke="#2e2e2e" stroke-width="0.95"/>
<rect x="527.3" y="663" width="6.5" height="22.4" fill="#fff" stroke="#333" stroke-width="0.8"/>
<line x1="517" y1="666.6" x2="527.3" y2="666.6" stroke="#1a1a1a" stroke-width="1.1"/>
<line x1="533.8" y1="666.6" x2="544.3" y2="666.6" stroke="#1a1a1a" stroke-width="1.1"/>
<!-- p10_lowershade.py -->
<defs><clipPath id="lsclip"><path d="M512.6 718.2 C510.3 721.1 502.8 730.1 498.8 735.5 C494.8 740.9 491.6 744.8 488.4 750.5 C485.2 756.2 481.8 763.0 479.4 769.6 C477.0 776.2 475.1 783.4 474.0 790.2 C472.9 797.0 472.8 806.9 472.6 810.2 L588.8 810.2 C588.5 806.9 588.1 797.0 586.9 790.2 C585.7 783.4 584.0 776.2 581.6 769.6 C579.2 763.0 575.8 756.4 572.6 750.5 C569.4 744.6 566.3 739.4 562.4 734.0 C558.5 728.6 551.6 720.8 549.4 718.2 Z"/></clipPath></defs>
<path d="M510.4 715.5 C508.1 718.7 500.6 728.8 496.6 734.5 C492.6 740.2 489.4 743.8 486.2 749.5 C483.0 755.2 479.7 762.2 477.3 769.0 C474.9 775.8 473.2 783.0 472.0 790.0 C470.8 797.0 470.6 807.2 470.3 810.7 L591.7 810.7 C591.4 807.2 590.9 797.0 589.7 790.0 C588.5 783.0 586.9 775.8 584.5 769.0 C582.1 762.2 578.8 755.5 575.5 749.5 C572.2 743.5 569.0 738.7 565.0 733.0 C561.0 727.3 553.8 718.4 551.5 715.5 Z" fill="#fff"/>
<g clip-path="url(#lsclip)">
<rect x="465" y="712" width="132" height="100" fill="#050505"/>
<path d="M500 712 L560 712 L560 722.8 L500 726.6 Z" fill="#fff"/>
<path d="M470.0 741.4 L595.0 731.8 L595.0 735.7 L470.0 745.3 Z" fill="#fff"/>
<path d="M470.0 757.2 L595.0 748.4 L595.0 752.2 L470.0 761.0 Z" fill="#fff"/>
<path d="M470.0 773.0 L595.0 764.0 L595.0 767.8 L470.0 776.8 Z" fill="#fff"/>
<path d="M470.0 788.8 L595.0 779.2 L595.0 782.9 L470.0 792.5 Z" fill="#fff"/>
<path d="M470.0 804.3 L595.0 794.9 L595.0 798.6 L470.0 808.0 Z" fill="#fff"/>
</g>
<path d="M510.4 715.5 C508.1 718.7 500.6 728.8 496.6 734.5 C492.6 740.2 489.4 743.8 486.2 749.5 C483.0 755.2 479.7 762.2 477.3 769.0 C474.9 775.8 473.2 783.0 472.0 790.0 C470.8 797.0 470.6 807.2 470.3 810.7 L591.7 810.7 C591.4 807.2 590.9 797.0 589.7 790.0 C588.5 783.0 586.9 775.8 584.5 769.0 C582.1 762.2 578.8 755.5 575.5 749.5 C572.2 743.5 569.0 738.7 565.0 733.0 C561.0 727.3 553.8 718.4 551.5 715.5 Z" fill="none" stroke="#5a5a5a" stroke-width="1"/>
<path d="M509.2 721.2 L548.6 718.3" stroke="#555" stroke-width="0.8" fill="none"/>
<path d="M511.6 717.2 L550.2 717.2" stroke="#666" stroke-width="0.7" fill="none"/>
<line x1="469.7" y1="810.7" x2="591.7" y2="810.7" stroke="#222" stroke-width="1.2"/>
<!-- p11_ring.py -->
<path d="M508.3 835.6 L553 835.6 L550.8 842 L511 842 Z" fill="#fff" stroke="#444" stroke-width="0.9" stroke-linejoin="round"/>
<line x1="508.3" y1="835.4" x2="553" y2="835.4" stroke="#333" stroke-width="1.5"/>
<line x1="513.4" y1="837.2" x2="513.4" y2="842" stroke="#555" stroke-width="0.8"/>
<line x1="517.0" y1="837.2" x2="517.0" y2="842" stroke="#555" stroke-width="0.8"/>
<line x1="520.6" y1="837.2" x2="520.6" y2="842" stroke="#555" stroke-width="0.8"/>
<line x1="524.2" y1="837.2" x2="524.2" y2="842" stroke="#555" stroke-width="0.8"/>
<line x1="527.8" y1="837.2" x2="527.8" y2="842" stroke="#555" stroke-width="0.8"/>
<line x1="531.4" y1="837.2" x2="531.4" y2="842" stroke="#555" stroke-width="0.8"/>
<line x1="535.0" y1="837.2" x2="535.0" y2="842" stroke="#555" stroke-width="0.8"/>
<line x1="538.6" y1="837.2" x2="538.6" y2="842" stroke="#555" stroke-width="0.8"/>
<line x1="542.2" y1="837.2" x2="542.2" y2="842" stroke="#555" stroke-width="0.8"/>
<line x1="545.8" y1="837.2" x2="545.8" y2="842" stroke="#555" stroke-width="0.8"/>
<line x1="549.4" y1="837.2" x2="549.4" y2="842" stroke="#555" stroke-width="0.8"/>
<line x1="510" y1="837.3" x2="551.6" y2="837.3" stroke="#777" stroke-width="0.6"/>
<path d="M503.5 871.2 C506 878 517 882.4 530 882.4 C546 882.4 558.6 877 558.4 869.8 C558.2 864.5 549 860.6 532 859.9" fill="none" stroke="#555" stroke-width="1"/>
<path d="M546.4 854.6 L531.6 859.8 L545.6 867.4" fill="none" stroke="#555" stroke-width="1"/>
<!-- p12_logo.py -->
<g id="logo">
<path d="M313.5 61.3 L320.8 61.3 L315.4 95.8 L307.0 95.8 Z" fill="#1a1a1a"/>
<path d="M335.0 61.3 L343.6 61.3 L334.6 95.8 L325.6 95.8 Z" fill="#1a1a1a"/>
<path d="M297.2 61.3 L305.6 61.3 L314.6 95.8 L306.4 95.8 Z" fill="#a9a9a9" stroke="#555" stroke-width="0.6"/>
<path d="M317.0 61.3 L325.2 61.3 L334.2 95.8 L325.6 95.8 Z" fill="#a9a9a9" stroke="#555" stroke-width="0.6"/>
<path d="M352.0 60.6 L366.0 60.6 L366.0 66.6 L352.0 66.6 Z" fill="#1a1a1a"/>
<path d="M352.0 75.4 L364.6 75.4 L364.6 81.6 L352.0 81.6 Z" fill="#1a1a1a"/>
<path d="M352.0 89.6 L366.6 89.6 L366.6 96.0 L352.0 96.0 Z" fill="#1a1a1a"/>
<path d="M345.6 60.6 L352.6 60.6 L352.6 96.0 L345.6 96.0 Z" fill="#a9a9a9" stroke="#555" stroke-width="0.6"/>
<path d="M375 60.6 L382 60.6 C391.5 60.6 396.8 68 396.8 78.3 C396.8 88.6 391.5 96 382 96 L375 96 Z M375.5 66.6 L375.5 89.8 L381 89.8 C387 89.8 390.2 85 390.2 78.2 C390.2 71.4 387 66.6 381 66.6 Z" fill="#1a1a1a" fill-rule="evenodd"/>
<path d="M368.6 60.6 L375.6 60.6 L375.6 96.0 L368.6 96.0 Z" fill="#a9a9a9" stroke="#555" stroke-width="0.6"/>
<path d="M403.6 64 C407 61.4 412.5 61 416.5 63.2 C421.5 66.2 424 71 423.8 76.5 C423.6 83 420.4 88.8 415.4 91.2 C411.4 92.8 406.5 92.2 404 90.4 L405.5 86.2 C408 87.6 411 87 413 84.6 C415.2 81.8 415.8 78 415.5 74.6 C415 70.6 412.6 68 409.5 67.4 C407.4 67.2 405.4 67.4 403.9 68 Z" fill="#1a1a1a"/>
<path d="M393.9 61.9 L398.6 58.6 L404.2 56.2 L409.3 59.2 L404.4 63.6 L401.6 68.4 L399.4 71.6 L396.4 70.4 L395.6 66 Z" fill="#b4b4b4"/>
<path d="M396.2 89.2 L405 87.4 L408.2 89.6 L407.8 94.4 L398.2 94.6 Z" fill="#adadad"/>
<line x1="403.4" y1="68.6" x2="403.8" y2="72.2" stroke="#1c1c1c" stroke-width="1.1"/>
<line x1="405.4" y1="68.4" x2="406.0" y2="72.6" stroke="#1c1c1c" stroke-width="1.1"/>
<line x1="407.4" y1="69.0" x2="408.4" y2="74.2" stroke="#1c1c1c" stroke-width="1.1"/>
<line x1="409.6" y1="70.6" x2="411.0" y2="76.2" stroke="#1c1c1c" stroke-width="1.1"/>
<line x1="411.4" y1="73.6" x2="412.8" y2="78.6" stroke="#1c1c1c" stroke-width="1.1"/>
<ellipse cx="423.92" cy="32.92" rx="3.17" ry="2.33" fill="#161616" transform="rotate(25 423.92 32.92)"/>
<ellipse cx="423.67" cy="38.75" rx="2.50" ry="1.83" fill="#161616" transform="rotate(30 423.67 38.75)"/>
<ellipse cx="422.67" cy="43.58" rx="1.83" ry="1.50" fill="#161616" transform="rotate(36 422.67 43.58)"/>
<ellipse cx="421.67" cy="47.75" rx="1.25" ry="1.00" fill="#161616" transform="rotate(43 421.67 47.75)"/>
<ellipse cx="420.58" cy="51.25" rx="0.75" ry="0.67" fill="#161616" transform="rotate(52 420.58 51.25)"/>
<ellipse cx="414.75" cy="31.67" rx="2.67" ry="2.00" fill="#161616" transform="rotate(5 414.75 31.67)"/>
<ellipse cx="415.58" cy="37.08" rx="2.17" ry="1.67" fill="#161616" transform="rotate(8 415.58 37.08)"/>
<ellipse cx="416.25" cy="41.92" rx="1.50" ry="1.17" fill="#161616" transform="rotate(13 416.25 41.92)"/>
<ellipse cx="416.67" cy="46.50" rx="1.00" ry="0.83" fill="#161616" transform="rotate(20 416.67 46.50)"/>
<ellipse cx="416.83" cy="50.00" rx="0.67" ry="0.58" fill="#161616" transform="rotate(29 416.83 50.00)"/>
<ellipse cx="407.67" cy="31.25" rx="2.33" ry="1.83" fill="#161616" transform="rotate(-11 407.67 31.25)"/>
<ellipse cx="409.33" cy="36.67" rx="1.83" ry="1.50" fill="#161616" transform="rotate(-9 409.33 36.67)"/>
<ellipse cx="411.00" cy="41.25" rx="1.33" ry="1.08" fill="#161616" transform="rotate(-6 411.00 41.25)"/>
<ellipse cx="412.08" cy="45.42" rx="0.83" ry="0.75" fill="#161616" transform="rotate(-3 412.08 45.42)"/>
<ellipse cx="413.08" cy="49.17" rx="0.58" ry="0.50" fill="#161616" transform="rotate(3 413.08 49.17)"/>
<ellipse cx="398.50" cy="27.50" rx="2.93" ry="2.48" fill="#161616" transform="rotate(-25 398.50 27.50)"/>
<ellipse cx="401.83" cy="32.50" rx="2.48" ry="2.02" fill="#161616" transform="rotate(-23 401.83 32.50)"/>
<ellipse cx="404.58" cy="36.92" rx="1.80" ry="1.58" fill="#161616" transform="rotate(-21 404.58 36.92)"/>
<ellipse cx="407.00" cy="41.25" rx="1.24" ry="1.12" fill="#161616" transform="rotate(-19 407.00 41.25)"/>
<ellipse cx="408.92" cy="45.00" rx="0.90" ry="0.79" fill="#161616" transform="rotate(-17 408.92 45.00)"/>
<ellipse cx="410.17" cy="48.33" rx="0.68" ry="0.56" fill="#161616" transform="rotate(-15 410.17 48.33)"/>
<ellipse cx="393.92" cy="29.17" rx="2.48" ry="2.02" fill="#161616" transform="rotate(-33 393.92 29.17)"/>
<ellipse cx="397.25" cy="33.75" rx="2.02" ry="1.69" fill="#161616" transform="rotate(-33 397.25 33.75)"/>
<ellipse cx="400.42" cy="37.92" rx="1.58" ry="1.35" fill="#161616" transform="rotate(-32 400.42 37.92)"/>
<ellipse cx="403.08" cy="41.67" rx="1.12" ry="1.01" fill="#161616" transform="rotate(-31 403.08 41.67)"/>
<ellipse cx="405.33" cy="45.42" rx="0.79" ry="0.68" fill="#161616" transform="rotate(-31 405.33 45.42)"/>
<ellipse cx="389.75" cy="30.83" rx="2.02" ry="1.69" fill="#161616" transform="rotate(-41 389.75 30.83)"/>
<ellipse cx="393.08" cy="35.00" rx="1.69" ry="1.46" fill="#161616" transform="rotate(-41 393.08 35.00)"/>
<ellipse cx="396.42" cy="39.00" rx="1.35" ry="1.12" fill="#161616" transform="rotate(-41 396.42 39.00)"/>
<ellipse cx="399.33" cy="42.67" rx="1.01" ry="0.90" fill="#161616" transform="rotate(-42 399.33 42.67)"/>
<ellipse cx="402.00" cy="46.00" rx="0.68" ry="0.68" fill="#161616" transform="rotate(-43 402.00 46.00)"/>
<ellipse cx="385.17" cy="31.25" rx="1.80" ry="1.46" fill="#161616" transform="rotate(-46 385.17 31.25)"/>
<ellipse cx="388.50" cy="35.00" rx="1.58" ry="1.35" fill="#161616" transform="rotate(-47 388.50 35.00)"/>
<ellipse cx="391.83" cy="38.75" rx="1.24" ry="1.12" fill="#161616" transform="rotate(-48 391.83 38.75)"/>
<ellipse cx="395.17" cy="42.08" rx="0.90" ry="0.90" fill="#161616" transform="rotate(-49 395.17 42.08)"/>
<ellipse cx="398.08" cy="45.00" rx="0.68" ry="0.68" fill="#161616" transform="rotate(-49 398.08 45.00)"/>
<ellipse cx="384.33" cy="35.42" rx="1.46" ry="1.24" fill="#161616" transform="rotate(-52 384.33 35.42)"/>
<ellipse cx="387.67" cy="37.92" rx="1.24" ry="1.12" fill="#161616" transform="rotate(-52 387.67 37.92)"/>
<ellipse cx="391.00" cy="41.25" rx="1.01" ry="0.90" fill="#161616" transform="rotate(-53 391.00 41.25)"/>
<ellipse cx="393.92" cy="44.17" rx="0.79" ry="0.68" fill="#161616" transform="rotate(-55 393.92 44.17)"/>
<ellipse cx="381.42" cy="40.00" rx="1.46" ry="1.24" fill="#161616" transform="rotate(-61 381.42 40.00)"/>
<ellipse cx="384.75" cy="41.83" rx="1.24" ry="1.12" fill="#161616" transform="rotate(-61 384.75 41.83)"/>
<ellipse cx="388.08" cy="44.00" rx="1.01" ry="0.90" fill="#161616" transform="rotate(-61 388.08 44.00)"/>
<ellipse cx="391.42" cy="46.25" rx="0.79" ry="0.68" fill="#161616" transform="rotate(-62 391.42 46.25)"/>
<ellipse cx="382.25" cy="44.17" rx="1.35" ry="1.12" fill="#161616" transform="rotate(-66 382.25 44.17)"/>
<ellipse cx="385.17" cy="45.42" rx="1.12" ry="1.01" fill="#161616" transform="rotate(-66 385.17 45.42)"/>
<ellipse cx="388.50" cy="47.08" rx="0.90" ry="0.79" fill="#161616" transform="rotate(-67 388.50 47.08)"/>
<ellipse cx="391.83" cy="48.75" rx="0.68" ry="0.56" fill="#161616" transform="rotate(-67 391.83 48.75)"/>
<ellipse cx="383.50" cy="49.17" rx="1.35" ry="1.12" fill="#161616" transform="rotate(-74 383.50 49.17)"/>
<ellipse cx="386.42" cy="50.00" rx="1.12" ry="1.01" fill="#161616" transform="rotate(-74 386.42 50.00)"/>
<ellipse cx="389.33" cy="51.00" rx="0.90" ry="0.79" fill="#161616" transform="rotate(-74 389.33 51.00)"/>
<ellipse cx="392.67" cy="52.08" rx="0.68" ry="0.56" fill="#161616" transform="rotate(-75 392.67 52.08)"/>
<ellipse cx="384.75" cy="53.33" rx="1.12" ry="1.01" fill="#161616" transform="rotate(-82 384.75 53.33)"/>
<ellipse cx="387.67" cy="53.75" rx="0.90" ry="0.79" fill="#161616" transform="rotate(-81 387.67 53.75)"/>
<ellipse cx="390.17" cy="54.17" rx="0.79" ry="0.68" fill="#161616" transform="rotate(-82 390.17 54.17)"/>
<ellipse cx="393.08" cy="54.83" rx="0.56" ry="0.56" fill="#161616" transform="rotate(-82 393.08 54.83)"/>
<ellipse cx="388.50" cy="57.08" rx="1.12" ry="0.90" fill="#161616" transform="rotate(-89 388.50 57.08)"/>
<ellipse cx="391.42" cy="57.33" rx="0.90" ry="0.79" fill="#161616" transform="rotate(-90 391.42 57.33)"/>
<ellipse cx="393.92" cy="57.67" rx="0.68" ry="0.56" fill="#161616" transform="rotate(269 393.92 57.67)"/>
<ellipse cx="432.67" cy="41.25" rx="3.33" ry="2.17" fill="#161616" transform="rotate(8 432.67 41.25)"/>
<ellipse cx="430.17" cy="45.42" rx="2.50" ry="1.67" fill="#161616" transform="rotate(8 430.17 45.42)"/>
<ellipse cx="427.50" cy="49.42" rx="1.67" ry="1.25" fill="#161616" transform="rotate(8 427.50 49.42)"/>
<ellipse cx="425.17" cy="52.75" rx="1.08" ry="0.83" fill="#161616" transform="rotate(8 425.17 52.75)"/>
<ellipse cx="423.08" cy="55.42" rx="0.67" ry="0.58" fill="#161616" transform="rotate(8 423.08 55.42)"/>
<ellipse cx="442.67" cy="45.42" rx="4.00" ry="2.50" fill="#161616" transform="rotate(10 442.67 45.42)"/>
<ellipse cx="438.08" cy="49.17" rx="3.00" ry="1.83" fill="#161616" transform="rotate(10 438.08 49.17)"/>
<ellipse cx="433.92" cy="52.50" rx="2.00" ry="1.33" fill="#161616" transform="rotate(10 433.92 52.50)"/>
<ellipse cx="430.17" cy="55.42" rx="1.25" ry="0.92" fill="#161616" transform="rotate(10 430.17 55.42)"/>
<ellipse cx="426.83" cy="57.67" rx="0.75" ry="0.58" fill="#161616" transform="rotate(10 426.83 57.67)"/>
<ellipse cx="453.50" cy="51.25" rx="4.83" ry="2.83" fill="#161616" transform="rotate(11 453.50 51.25)"/>
<ellipse cx="446.83" cy="54.17" rx="3.33" ry="2.00" fill="#161616" transform="rotate(11 446.83 54.17)"/>
<ellipse cx="441.00" cy="56.67" rx="2.33" ry="1.50" fill="#161616" transform="rotate(11 441.00 56.67)"/>
<ellipse cx="435.58" cy="58.50" rx="1.50" ry="1.00" fill="#161616" transform="rotate(11 435.58 58.50)"/>
<ellipse cx="431.00" cy="60.00" rx="0.92" ry="0.67" fill="#161616" transform="rotate(11 431.00 60.00)"/>
<ellipse cx="455.17" cy="60.00" rx="4.00" ry="2.17" fill="#161616" transform="rotate(12 455.17 60.00)"/>
<ellipse cx="447.67" cy="61.25" rx="2.67" ry="1.50" fill="#161616" transform="rotate(12 447.67 61.25)"/>
<ellipse cx="441.00" cy="62.08" rx="1.83" ry="1.17" fill="#161616" transform="rotate(12 441.00 62.08)"/>
<ellipse cx="435.33" cy="62.67" rx="1.17" ry="0.83" fill="#161616" transform="rotate(12 435.33 62.67)"/>
<ellipse cx="430.58" cy="62.92" rx="0.75" ry="0.58" fill="#161616" transform="rotate(12 430.58 62.92)"/>
<ellipse cx="462.67" cy="66.67" rx="4.33" ry="2.17" fill="#161616" transform="rotate(14 462.67 66.67)"/>
<ellipse cx="453.50" cy="66.67" rx="3.00" ry="1.50" fill="#161616" transform="rotate(14 453.50 66.67)"/>
<ellipse cx="446.00" cy="66.33" rx="2.00" ry="1.17" fill="#161616" transform="rotate(14 446.00 66.33)"/>
<ellipse cx="439.50" cy="66.00" rx="1.33" ry="0.83" fill="#161616" transform="rotate(14 439.50 66.00)"/>
<ellipse cx="434.33" cy="65.67" rx="0.83" ry="0.58" fill="#161616" transform="rotate(14 434.33 65.67)"/>
<ellipse cx="468.92" cy="73.33" rx="4.67" ry="2.33" fill="#161616" transform="rotate(16 468.92 73.33)"/>
<ellipse cx="458.50" cy="72.08" rx="3.17" ry="1.50" fill="#161616" transform="rotate(16 458.50 72.08)"/>
<ellipse cx="450.17" cy="70.67" rx="2.17" ry="1.17" fill="#161616" transform="rotate(16 450.17 70.67)"/>
<ellipse cx="443.08" cy="69.58" rx="1.50" ry="0.83" fill="#161616" transform="rotate(16 443.08 69.58)"/>
<ellipse cx="437.67" cy="68.75" rx="0.92" ry="0.58" fill="#161616" transform="rotate(16 437.67 68.75)"/>
<ellipse cx="461.83" cy="77.92" rx="3.00" ry="1.33" fill="#161616" transform="rotate(17 461.83 77.92)"/>
<ellipse cx="453.08" cy="75.42" rx="2.33" ry="1.08" fill="#161616" transform="rotate(17 453.08 75.42)"/>
<ellipse cx="445.83" cy="73.33" rx="1.67" ry="0.83" fill="#161616" transform="rotate(17 445.83 73.33)"/>
<ellipse cx="440.00" cy="71.83" rx="1.08" ry="0.67" fill="#161616" transform="rotate(17 440.00 71.83)"/>
<ellipse cx="463.08" cy="82.92" rx="3.33" ry="1.08" fill="#161616" transform="rotate(18 463.08 82.92)"/>
<ellipse cx="454.75" cy="79.58" rx="2.33" ry="0.92" fill="#161616" transform="rotate(18 454.75 79.58)"/>
<ellipse cx="447.67" cy="77.08" rx="1.67" ry="0.75" fill="#161616" transform="rotate(18 447.67 77.08)"/>
<ellipse cx="441.83" cy="75.00" rx="1.17" ry="0.58" fill="#161616" transform="rotate(18 441.83 75.00)"/>
<ellipse cx="463.08" cy="87.08" rx="3.33" ry="1.00" fill="#161616" transform="rotate(20 463.08 87.08)"/>
<ellipse cx="454.75" cy="83.50" rx="2.33" ry="0.83" fill="#161616" transform="rotate(20 454.75 83.50)"/>
<ellipse cx="448.08" cy="80.67" rx="1.67" ry="0.67" fill="#161616" transform="rotate(20 448.08 80.67)"/>
<ellipse cx="442.67" cy="78.33" rx="1.17" ry="0.50" fill="#161616" transform="rotate(20 442.67 78.33)"/>
<ellipse cx="448.50" cy="84.58" rx="1.50" ry="0.67" fill="#161616" transform="rotate(22 448.50 84.58)"/>
<ellipse cx="442.67" cy="82.08" rx="1.17" ry="0.58" fill="#161616" transform="rotate(22 442.67 82.08)"/>
<ellipse cx="438.08" cy="79.58" rx="0.83" ry="0.50" fill="#161616" transform="rotate(22 438.08 79.58)"/>
<ellipse cx="441.00" cy="85.83" rx="1.17" ry="0.58" fill="#161616" transform="rotate(23 441.00 85.83)"/>
<ellipse cx="436.42" cy="82.92" rx="0.92" ry="0.50" fill="#161616" transform="rotate(23 436.42 82.92)"/>
<ellipse cx="433.50" cy="80.42" rx="0.67" ry="0.42" fill="#161616" transform="rotate(23 433.50 80.42)"/>
<circle cx="419.72" cy="54.05" r="0.70" fill="#2a2a2a"/>
<circle cx="419.02" cy="56.29" r="0.55" fill="#2a2a2a"/>
<circle cx="418.47" cy="58.08" r="0.43" fill="#2a2a2a"/>
<circle cx="416.97" cy="52.80" r="0.62" fill="#2a2a2a"/>
<circle cx="417.07" cy="55.04" r="0.49" fill="#2a2a2a"/>
<circle cx="417.16" cy="56.83" r="0.38" fill="#2a2a2a"/>
<circle cx="413.88" cy="52.17" r="0.55" fill="#2a2a2a"/>
<circle cx="414.52" cy="54.57" r="0.43" fill="#2a2a2a"/>
<circle cx="415.04" cy="56.49" r="0.38" fill="#2a2a2a"/>
<circle cx="411.17" cy="51.00" r="0.47" fill="#2a2a2a"/>
<circle cx="411.97" cy="53.13" r="0.38" fill="#2a2a2a"/>
<circle cx="412.61" cy="54.84" r="0.38" fill="#2a2a2a"/>
<circle cx="407.13" cy="48.42" r="0.55" fill="#2a2a2a"/>
<circle cx="408.57" cy="50.82" r="0.43" fill="#2a2a2a"/>
<circle cx="409.73" cy="52.74" r="0.38" fill="#2a2a2a"/>
<circle cx="404.13" cy="48.67" r="0.47" fill="#2a2a2a"/>
<circle cx="405.84" cy="50.80" r="0.38" fill="#2a2a2a"/>
<circle cx="407.21" cy="52.51" r="0.38" fill="#2a2a2a"/>
<circle cx="400.42" cy="47.33" r="0.47" fill="#2a2a2a"/>
<circle cx="402.28" cy="49.20" r="0.38" fill="#2a2a2a"/>
<circle cx="403.78" cy="50.69" r="0.38" fill="#2a2a2a"/>
<circle cx="396.25" cy="46.50" r="0.55" fill="#2a2a2a"/>
<circle cx="398.12" cy="48.37" r="0.43" fill="#2a2a2a"/>
<circle cx="399.61" cy="49.86" r="0.38" fill="#2a2a2a"/>
<circle cx="394.08" cy="48.05" r="0.55" fill="#2a2a2a"/>
<circle cx="396.22" cy="49.49" r="0.43" fill="#2a2a2a"/>
<circle cx="397.92" cy="50.64" r="0.38" fill="#2a2a2a"/>
<circle cx="394.50" cy="50.08" r="0.47" fill="#2a2a2a"/>
<circle cx="396.63" cy="51.15" r="0.38" fill="#2a2a2a"/>
<circle cx="398.34" cy="52.00" r="0.38" fill="#2a2a2a"/>
<circle cx="395.33" cy="52.95" r="0.47" fill="#2a2a2a"/>
<circle cx="397.47" cy="53.64" r="0.38" fill="#2a2a2a"/>
<circle cx="399.17" cy="54.20" r="0.38" fill="#2a2a2a"/>
<circle cx="395.42" cy="55.37" r="0.39" fill="#2a2a2a"/>
<circle cx="397.28" cy="55.79" r="0.38" fill="#2a2a2a"/>
<circle cx="398.78" cy="56.13" r="0.38" fill="#2a2a2a"/>
<circle cx="397.52" cy="58.15" r="0.38" fill="#2a2a2a"/>
<circle cx="398.80" cy="58.32" r="0.38" fill="#2a2a2a"/>
<circle cx="421.42" cy="57.55" r="0.62" fill="#2a2a2a"/>
<circle cx="427.33" cy="61.20" r="0.86" fill="#2a2a2a"/>
<circle cx="426.78" cy="63.12" r="0.70" fill="#2a2a2a"/>
<circle cx="430.20" cy="65.40" r="0.78" fill="#2a2a2a"/>
<circle cx="426.89" cy="65.19" r="0.61" fill="#2a2a2a"/>
<circle cx="433.33" cy="68.08" r="0.86" fill="#2a2a2a"/>
<circle cx="429.87" cy="67.55" r="0.67" fill="#2a2a2a"/>
<circle cx="427.09" cy="67.12" r="0.52" fill="#2a2a2a"/>
<circle cx="435.33" cy="70.63" r="1.01" fill="#2a2a2a"/>
<circle cx="431.60" cy="69.67" r="0.79" fill="#2a2a2a"/>
<circle cx="428.61" cy="68.91" r="0.62" fill="#2a2a2a"/>
<circle cx="437.17" cy="73.33" r="1.09" fill="#2a2a2a"/>
<circle cx="433.43" cy="72.00" r="0.85" fill="#2a2a2a"/>
<circle cx="430.45" cy="70.93" r="0.66" fill="#2a2a2a"/>
<circle cx="438.33" cy="76.47" r="1.09" fill="#2a2a2a"/>
<circle cx="434.87" cy="74.97" r="0.85" fill="#2a2a2a"/>
<circle cx="432.09" cy="73.78" r="0.66" fill="#2a2a2a"/>
<circle cx="434.42" cy="77.58" r="0.78" fill="#2a2a2a"/>
<circle cx="431.48" cy="75.98" r="0.61" fill="#2a2a2a"/>
<circle cx="429.14" cy="74.70" r="0.47" fill="#2a2a2a"/>
<circle cx="431.17" cy="78.42" r="0.62" fill="#2a2a2a"/>
<circle cx="429.30" cy="76.82" r="0.49" fill="#2a2a2a"/>
<circle cx="427.81" cy="75.54" r="0.38" fill="#2a2a2a"/>
<line x1="428.47" y1="76.09" x2="429.87" y2="75.39" stroke="#222" stroke-width="0.55"/>
<line x1="430.23" y1="77.08" x2="431.63" y2="76.38" stroke="#222" stroke-width="0.55"/>
<line x1="433.64" y1="68.11" x2="435.04" y2="67.41" stroke="#222" stroke-width="0.55"/>
<line x1="425.48" y1="80.97" x2="426.88" y2="80.27" stroke="#222" stroke-width="0.55"/>
<line x1="428.76" y1="70.92" x2="430.16" y2="70.22" stroke="#222" stroke-width="0.55"/>
<line x1="438.58" y1="74.85" x2="439.98" y2="74.15" stroke="#222" stroke-width="0.55"/>
<line x1="436.45" y1="74.96" x2="437.85" y2="74.26" stroke="#222" stroke-width="0.55"/>
<line x1="433.82" y1="69.53" x2="435.22" y2="68.83" stroke="#222" stroke-width="0.55"/>
<line x1="433.76" y1="81.48" x2="435.16" y2="80.78" stroke="#222" stroke-width="0.55"/>
<line x1="432.28" y1="79.37" x2="433.68" y2="78.67" stroke="#222" stroke-width="0.55"/>
<line x1="434.25" y1="68.08" x2="435.65" y2="67.38" stroke="#222" stroke-width="0.55"/>
<line x1="435.41" y1="76.87" x2="436.81" y2="76.17" stroke="#222" stroke-width="0.55"/>
<line x1="429.32" y1="67.53" x2="430.72" y2="66.83" stroke="#222" stroke-width="0.55"/>
<line x1="436.84" y1="74.90" x2="438.24" y2="74.20" stroke="#222" stroke-width="0.55"/>
<line x1="434.88" y1="81.66" x2="436.28" y2="80.96" stroke="#222" stroke-width="0.55"/>
<line x1="434.82" y1="82.37" x2="436.22" y2="81.67" stroke="#222" stroke-width="0.55"/>
<line x1="430.57" y1="80.37" x2="431.97" y2="79.67" stroke="#222" stroke-width="0.55"/>
<line x1="431.23" y1="82.61" x2="432.63" y2="81.91" stroke="#222" stroke-width="0.55"/>
<line x1="437.02" y1="68.64" x2="438.42" y2="67.94" stroke="#222" stroke-width="0.55"/>
<line x1="427.11" y1="70.63" x2="428.51" y2="69.93" stroke="#222" stroke-width="0.55"/>
<line x1="438.17" y1="74.29" x2="439.57" y2="73.59" stroke="#222" stroke-width="0.55"/>
<line x1="433.66" y1="72.03" x2="435.06" y2="71.33" stroke="#222" stroke-width="0.55"/>
<line x1="432.06" y1="73.45" x2="433.46" y2="72.75" stroke="#222" stroke-width="0.55"/>
<line x1="429.98" y1="76.77" x2="431.38" y2="76.07" stroke="#222" stroke-width="0.55"/>
<line x1="433.09" y1="82.09" x2="434.49" y2="81.39" stroke="#222" stroke-width="0.55"/>
<line x1="434.39" y1="82.50" x2="435.79" y2="81.80" stroke="#222" stroke-width="0.55"/>
<line x1="436.72" y1="83.53" x2="438.12" y2="82.83" stroke="#222" stroke-width="0.55"/>
<line x1="434.25" y1="69.73" x2="435.65" y2="69.03" stroke="#222" stroke-width="0.55"/>
<line x1="436.78" y1="83.09" x2="438.18" y2="82.39" stroke="#222" stroke-width="0.55"/>
<line x1="437.36" y1="76.50" x2="438.76" y2="75.80" stroke="#222" stroke-width="0.55"/>
<line x1="434.82" y1="70.54" x2="436.22" y2="69.84" stroke="#222" stroke-width="0.55"/>
<line x1="436.39" y1="76.58" x2="437.79" y2="75.88" stroke="#222" stroke-width="0.55"/>
<line x1="429.10" y1="68.07" x2="430.50" y2="67.37" stroke="#222" stroke-width="0.55"/>
<line x1="436.69" y1="83.51" x2="438.09" y2="82.81" stroke="#222" stroke-width="0.55"/>
<path d="M406.17 57.08 Q403.57 53.08 403.08 48.33" stroke="#2a2a2a" stroke-width="1.0" fill="none" stroke-linecap="round"/>
<path d="M407.50 56.67 Q405.32 52.34 405.33 47.50" stroke="#2a2a2a" stroke-width="0.9" fill="none" stroke-linecap="round"/>
<path d="M408.33 56.33 Q407.17 52.21 408.00 48.00" stroke="#2a2a2a" stroke-width="0.9" fill="none" stroke-linecap="round"/>
<path d="M409.17 56.33 Q409.39 52.31 411.42 48.83" stroke="#2a2a2a" stroke-width="0.9" fill="none" stroke-linecap="round"/>
<path d="M410.00 56.67 Q411.22 53.11 413.92 50.50" stroke="#2a2a2a" stroke-width="0.8" fill="none" stroke-linecap="round"/>
<path d="M410.83 57.17 Q413.34 54.01 417.00 52.33" stroke="#2a2a2a" stroke-width="0.8" fill="none" stroke-linecap="round"/>
<path d="M411.83 57.67 Q415.60 55.00 420.17 54.33" stroke="#2a2a2a" stroke-width="0.8" fill="none" stroke-linecap="round"/>
<path d="M412.67 58.50 Q417.53 56.36 422.83 56.67" stroke="#2a2a2a" stroke-width="0.7" fill="none" stroke-linecap="round"/>
<path d="M405.58 57.67 Q402.49 54.88 401.00 51.00" stroke="#2a2a2a" stroke-width="0.8" fill="none" stroke-linecap="round"/>
<path d="M404.83 58.50 Q401.65 56.97 399.50 54.17" stroke="#2a2a2a" stroke-width="0.7" fill="none" stroke-linecap="round"/>
<line x1="410.04" y1="60.41" x2="410.10" y2="58.91" stroke="#222" stroke-width="0.90"/>
<line x1="412.57" y1="60.72" x2="412.86" y2="59.25" stroke="#222" stroke-width="0.90"/>
<line x1="415.01" y1="61.47" x2="415.54" y2="60.06" stroke="#222" stroke-width="0.90"/>
<line x1="417.30" y1="62.62" x2="418.05" y2="61.32" stroke="#222" stroke-width="0.90"/>
<line x1="419.39" y1="64.16" x2="420.34" y2="63.00" stroke="#222" stroke-width="0.90"/>
<line x1="421.21" y1="66.04" x2="422.34" y2="65.05" stroke="#222" stroke-width="0.90"/>
<line x1="422.73" y1="68.20" x2="424.00" y2="67.41" stroke="#222" stroke-width="0.90"/>
<line x1="423.90" y1="70.60" x2="425.28" y2="70.02" stroke="#222" stroke-width="0.90"/>
<line x1="424.68" y1="73.17" x2="426.14" y2="72.83" stroke="#222" stroke-width="0.90"/>
<line x1="425.06" y1="75.84" x2="426.56" y2="75.74" stroke="#222" stroke-width="0.90"/>
<line x1="425.03" y1="78.54" x2="426.53" y2="78.68" stroke="#222" stroke-width="0.90"/>
<line x1="424.59" y1="81.20" x2="426.04" y2="81.58" stroke="#222" stroke-width="0.90"/>
<line x1="423.75" y1="83.75" x2="425.12" y2="84.36" stroke="#222" stroke-width="0.90"/>
<line x1="410.14" y1="57.41" x2="410.19" y2="56.11" stroke="#222" stroke-width="0.75"/>
<line x1="412.53" y1="57.67" x2="412.74" y2="56.38" stroke="#222" stroke-width="0.75"/>
<line x1="414.86" y1="58.25" x2="415.24" y2="57.01" stroke="#222" stroke-width="0.75"/>
<line x1="417.10" y1="59.15" x2="417.64" y2="57.97" stroke="#222" stroke-width="0.75"/>
<line x1="419.21" y1="60.35" x2="419.90" y2="59.25" stroke="#222" stroke-width="0.75"/>
<line x1="421.16" y1="61.84" x2="421.99" y2="60.83" stroke="#222" stroke-width="0.75"/>
<line x1="422.91" y1="63.58" x2="423.86" y2="62.69" stroke="#222" stroke-width="0.75"/>
<line x1="424.44" y1="65.55" x2="425.49" y2="64.79" stroke="#222" stroke-width="0.75"/>
<line x1="425.71" y1="67.72" x2="426.85" y2="67.10" stroke="#222" stroke-width="0.75"/>
<line x1="426.70" y1="70.04" x2="427.92" y2="69.58" stroke="#222" stroke-width="0.75"/>
<line x1="427.40" y1="72.48" x2="428.67" y2="72.18" stroke="#222" stroke-width="0.75"/>
<line x1="427.80" y1="75.00" x2="429.10" y2="74.86" stroke="#222" stroke-width="0.75"/>
<line x1="427.89" y1="77.55" x2="429.19" y2="77.58" stroke="#222" stroke-width="0.75"/>
<line x1="427.67" y1="80.09" x2="428.95" y2="80.29" stroke="#222" stroke-width="0.75"/>
<line x1="427.14" y1="82.58" x2="428.39" y2="82.95" stroke="#222" stroke-width="0.75"/>
<line x1="426.31" y1="84.97" x2="427.50" y2="85.50" stroke="#222" stroke-width="0.75"/>
<line x1="410.23" y1="54.61" x2="410.27" y2="53.51" stroke="#222" stroke-width="0.60"/>
<line x1="412.50" y1="54.83" x2="412.66" y2="53.74" stroke="#222" stroke-width="0.60"/>
<line x1="414.74" y1="55.31" x2="415.01" y2="54.24" stroke="#222" stroke-width="0.60"/>
<line x1="416.91" y1="56.04" x2="417.30" y2="55.01" stroke="#222" stroke-width="0.60"/>
<line x1="419.00" y1="57.02" x2="419.49" y2="56.04" stroke="#222" stroke-width="0.60"/>
<line x1="420.97" y1="58.24" x2="421.57" y2="57.32" stroke="#222" stroke-width="0.60"/>
<line x1="422.81" y1="59.67" x2="423.51" y2="58.82" stroke="#222" stroke-width="0.60"/>
<line x1="424.49" y1="61.32" x2="425.28" y2="60.54" stroke="#222" stroke-width="0.60"/>
<line x1="426.00" y1="63.14" x2="426.86" y2="62.46" stroke="#222" stroke-width="0.60"/>
<line x1="427.31" y1="65.13" x2="428.24" y2="64.55" stroke="#222" stroke-width="0.60"/>
<line x1="428.41" y1="67.26" x2="429.40" y2="66.78" stroke="#222" stroke-width="0.60"/>
<line x1="429.29" y1="69.50" x2="430.33" y2="69.13" stroke="#222" stroke-width="0.60"/>
<line x1="429.93" y1="71.83" x2="431.00" y2="71.58" stroke="#222" stroke-width="0.60"/>
<line x1="430.34" y1="74.23" x2="431.43" y2="74.09" stroke="#222" stroke-width="0.60"/>
<line x1="430.50" y1="76.65" x2="431.60" y2="76.64" stroke="#222" stroke-width="0.60"/>
<line x1="430.41" y1="79.08" x2="431.50" y2="79.18" stroke="#222" stroke-width="0.60"/>
<line x1="430.07" y1="81.49" x2="431.15" y2="81.71" stroke="#222" stroke-width="0.60"/>
<line x1="429.50" y1="83.84" x2="430.54" y2="84.18" stroke="#222" stroke-width="0.60"/>
<line x1="428.68" y1="86.11" x2="429.69" y2="86.56" stroke="#222" stroke-width="0.60"/>
<g transform="translate(375 70) scale(0.075)" fill="none" stroke="#141414" stroke-width="33" stroke-linecap="round" stroke-linejoin="round">
<path d="M82 440 C130 418 200 430 250 438 C290 444 320 440 345 430" stroke-width="32"/>
<path d="M190 408 C235 345 275 275 310 215 C345 158 385 102 412 120 C436 140 418 190 392 240 C368 285 338 350 338 400 C338 428 350 440 368 430 C395 400 420 360 442 328 C430 360 408 400 414 420 C420 436 446 420 472 392"/>
<path d="M582 326 C550 298 498 320 478 372 C464 412 490 442 530 420 C562 400 586 350 602 298 C586 360 560 440 530 500 C510 545 490 575 468 592"/>
<path d="M606 318 C680 270 770 200 832 158" stroke-width="13"/>
<path d="M832 158 C790 230 730 350 680 458 C710 400 760 340 796 330 C822 325 800 370 780 400 C765 426 770 446 796 436 C822 425 850 400 872 380"/>
<path d="M992 218 C950 290 905 370 885 410 C874 436 890 446 916 436 C950 420 990 396 1022 378"/>
<path d="M922 254 C960 246 1000 242 1042 238" stroke-width="22"/>
</g>
</g>
</g>
</g>
</svg>
</body></html>
